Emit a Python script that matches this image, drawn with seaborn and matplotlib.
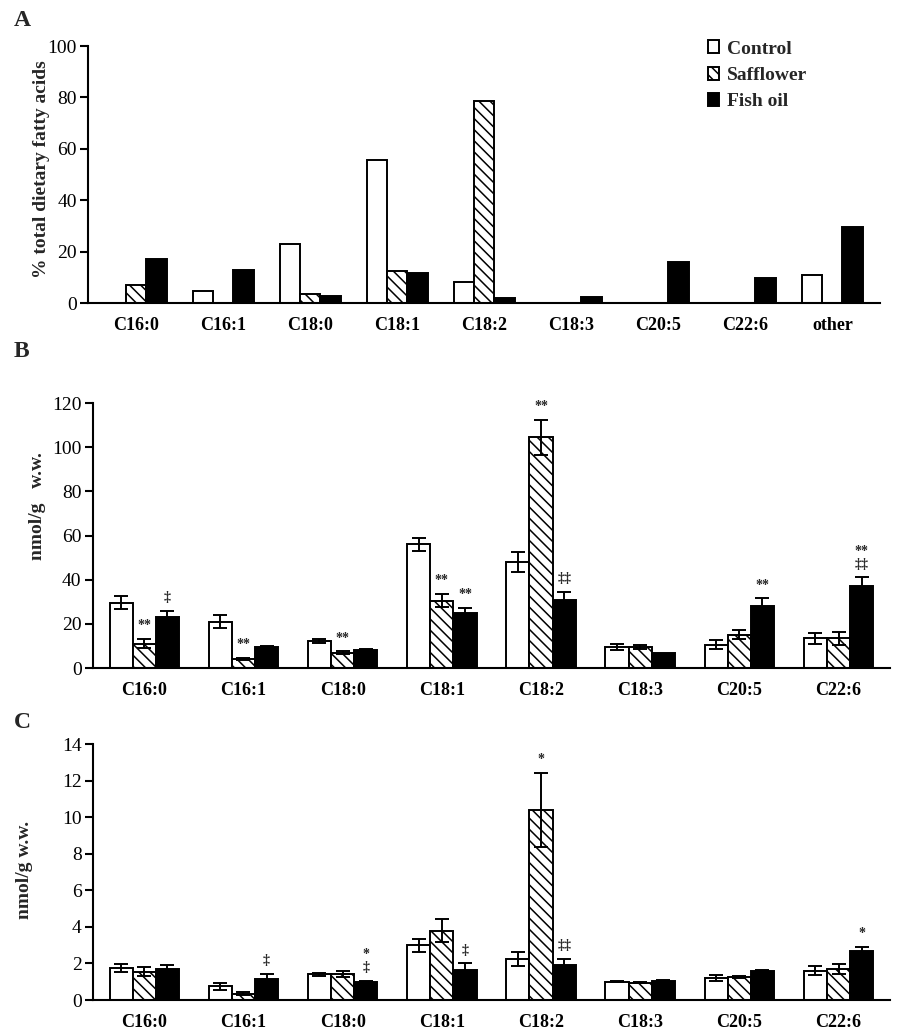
import pandas as pd
import numpy as np
import seaborn as sns
import matplotlib.pyplot as plt

# Panel A: diet composition (% of total dietary fatty acids)
acids_a = ['C16:0', 'C16:1', 'C18:0', 'C18:1', 'C18:2', 'C18:3', 'C20:5', 'C22:6', 'other']
diets = ['Control', 'Safflower', 'Fish oil']
a_control = [0, 4.5, 23, 55.5, 8, 0, 0, 0, 11]
a_safflower = [7, 0, 3.5, 12.3, 78.5, 0, 0, 0, 0]
a_fish = [17, 13, 2.7, 11.8, 1.8, 2.4, 16, 9.7, 29.5]

# Panel B (nmol/g w.w.)
acids_bc = ['C16:0', 'C16:1', 'C18:0', 'C18:1', 'C18:2', 'C18:3', 'C20:5', 'C22:6']
b_control = [29.5, 21, 12.3, 56, 48, 9.5, 10.5, 13.5]
b_control_err = [3, 3, 0.8, 3, 4.5, 1.5, 2, 2.5]
b_safflower = [11, 4, 7, 30.5, 104.5, 9.5, 15, 13.5]
b_safflower_err = [2, 0.5, 0.5, 3, 8, 1, 2, 3]
b_fish = [23, 9.5, 8, 25, 31, 6.8, 28, 37]
b_fish_err = [3, 0.5, 0.5, 2, 3.5, 0, 3.5, 4]
b_marks = [['', '**', '‡'], ['', '**', ''], ['', '**', ''], ['', '**', '**'],
           ['', '**', '‡‡'], ['', '', ''], ['', '', '**'], ['', '', '**\n‡‡']]

# Panel C (nmol/g w.w.)
c_control = [1.75, 0.75, 1.42, 3.0, 2.25, 1.0, 1.2, 1.6]
c_control_err = [0.2, 0.2, 0.08, 0.35, 0.4, 0.03, 0.15, 0.25]
c_safflower = [1.55, 0.35, 1.42, 3.8, 10.4, 0.95, 1.25, 1.7]
c_safflower_err = [0.25, 0.1, 0.17, 0.65, 2.0, 0.03, 0.05, 0.25]
c_fish = [1.68, 1.15, 1.0, 1.65, 1.9, 1.05, 1.6, 2.7]
c_fish_err = [0.25, 0.27, 0.05, 0.35, 0.35, 0.03, 0.05, 0.22]
c_marks = [['', '', ''], ['', '', '‡'], ['', '', '*\n‡'], ['', '', '‡'],
           ['', '*', '‡‡'], ['', '', ''], ['', '', ''], ['', '', '*']]

sns.set_style("white")
plt.rcParams['font.family'] = ['Liberation Serif', 'DejaVu Serif']
plt.rcParams['hatch.linewidth'] = 1.1

palette = {'Control': 'white', 'Safflower': 'white', 'Fish oil': 'black'}


def make_df(acids, ctrl, saff, fish):
    rows = []
    for diet, vals in zip(diets, [ctrl, saff, fish]):
        for acid, v in zip(acids, vals):
            rows.append({'acid': acid, 'diet': diet, 'value': v})
    return pd.DataFrame(rows)


def draw_panel(ax, df, acids, errs=None, marks=None):
    sns.barplot(data=df, x='acid', y='value', hue='diet', hue_order=diets,
                order=acids, palette=palette, edgecolor='black', linewidth=1.4,
                width=0.7, errorbar=None, legend=False, ax=ax)
    bar_groups = list(ax.containers)
    for i, cont in enumerate(bar_groups):
        for j, bar in enumerate(cont):
            if i == 1:
                bar.set_hatch('\\\\\\')
            if errs is not None:
                xc = bar.get_x() + bar.get_width() / 2
                h = bar.get_height()
                e = errs[i][j]
                if e > 0:
                    ax.errorbar(xc, h, yerr=e, color='black', capsize=5,
                                elinewidth=1.4, capthick=1.4, zorder=5)
                if marks is not None and marks[j][i]:
                    ax.annotate(marks[j][i], (xc, h + e), xytext=(0, 5),
                                textcoords='offset points', ha='center', va='bottom',
                                fontsize=10, fontweight='bold', linespacing=1.0)
    sns.despine(ax=ax)
    ax.spines['left'].set_linewidth(1.5)
    ax.spines['bottom'].set_linewidth(1.5)
    ax.spines['left'].set_color('black')
    ax.spines['bottom'].set_color('black')
    ax.tick_params(axis='y', direction='out', length=6, width=1.5, left=True,
                   labelsize=14, pad=2, colors='black')
    ax.tick_params(axis='x', length=0, pad=10, labelsize=13, colors='black')
    for lab in ax.get_xticklabels():
        lab.set_fontweight('bold')
    ax.set_xlabel('')
    return bar_groups


fig = plt.figure(figsize=(9, 10.36), dpi=100)

# Panel A
ax_a = fig.add_axes([0.098, 0.7075, 0.88, 0.248])
groups_a = draw_panel(ax_a, make_df(acids_a, a_control, a_safflower, a_fish), acids_a)
ax_a.set_ylim(0, 100)
ax_a.set_yticks(range(0, 101, 20))
ax_a.set_xlim(-0.55, 8.55)
ax_a.set_ylabel('% total dietary fatty acids', fontsize=14, fontweight='bold')
ax_a.yaxis.set_label_coords(-0.048, 0.52)
ax_a.legend(handles=[c[0] for c in groups_a], labels=diets,
            loc='upper left', bbox_to_anchor=(0.76, 1.09), frameon=False,
            handlelength=0.6, handleheight=0.65, handletextpad=0.4,
            labelspacing=0.45, prop={'weight': 'bold', 'size': 14})
fig.text(0.015, 0.975, 'A', fontsize=17, fontweight='bold')

# Panel B
ax_b = fig.add_axes([0.103, 0.3552, 0.886, 0.2558])
draw_panel(ax_b, make_df(acids_bc, b_control, b_safflower, b_fish), acids_bc,
           errs=[b_control_err, b_safflower_err, b_fish_err], marks=b_marks)
ax_b.set_ylim(0, 120)
ax_b.set_yticks(range(0, 121, 20))
ax_b.set_xlim(-0.52, 7.52)
ax_b.set_ylabel('nmol/g   w.w.', fontsize=14, fontweight='bold')
ax_b.yaxis.set_label_coords(-0.058, 0.61)
fig.text(0.015, 0.655, 'B', fontsize=17, fontweight='bold')

# Panel C
ax_c = fig.add_axes([0.103, 0.0347, 0.886, 0.247])
draw_panel(ax_c, make_df(acids_bc, c_control, c_safflower, c_fish), acids_bc,
           errs=[c_control_err, c_safflower_err, c_fish_err], marks=c_marks)
ax_c.set_ylim(0, 14)
ax_c.set_yticks(range(0, 15, 2))
ax_c.set_xlim(-0.52, 7.52)
ax_c.set_ylabel('nmol/g w.w.', fontsize=14, fontweight='bold')
ax_c.yaxis.set_label_coords(-0.075, 0.51)
fig.text(0.015, 0.297, 'C', fontsize=17, fontweight='bold')

plt.savefig('out.png', dpi=100)
plt.close()
